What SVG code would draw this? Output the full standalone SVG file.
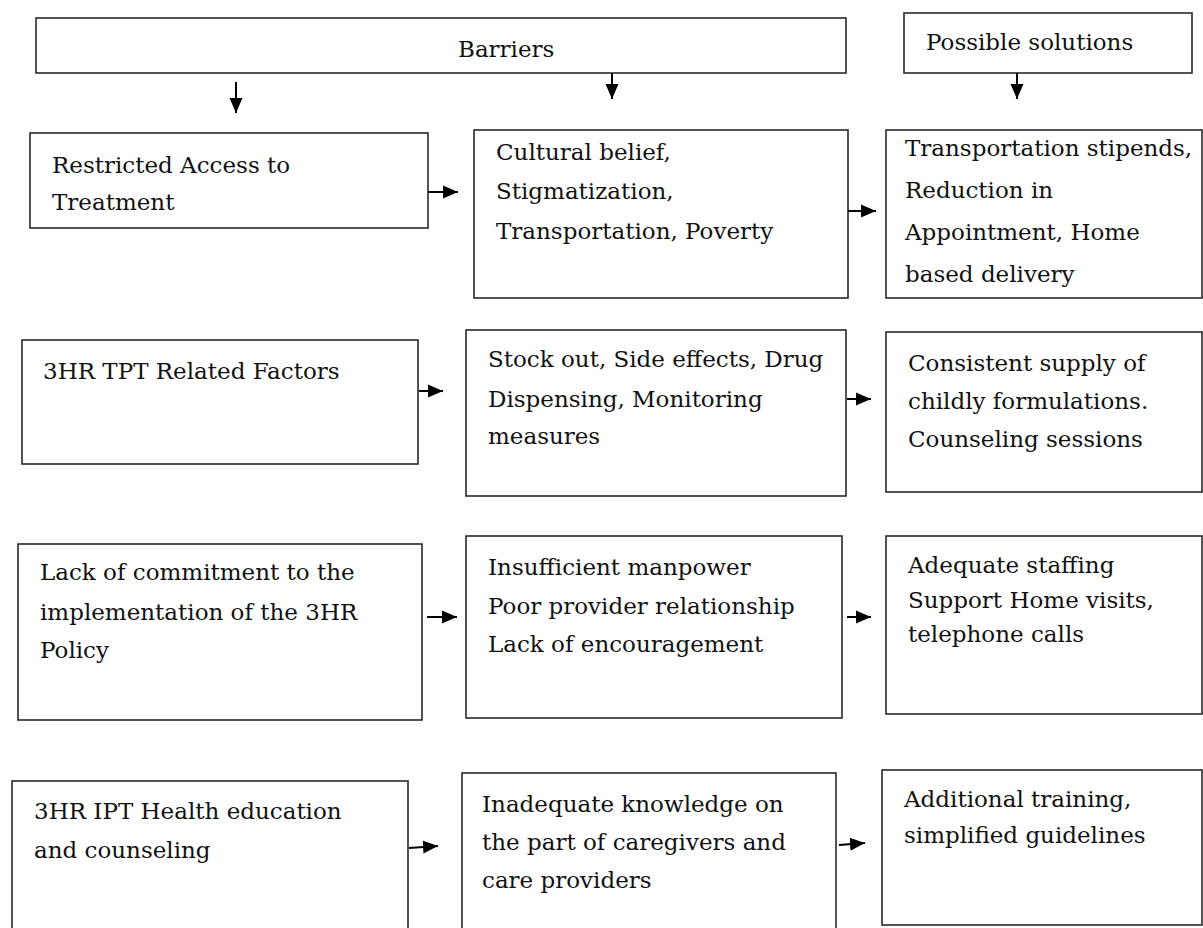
<svg xmlns="http://www.w3.org/2000/svg" width="1203" height="928" viewBox="0 0 1203 928">
<style>
.box{fill:#fff;stroke:#2a2a2a;stroke-width:1.6}
.t{font-family:"DejaVu Serif","Liberation Serif",serif;font-size:23px;fill:#111}
.c{stroke:#000;stroke-width:2;fill:none;marker-end:url(#ah)}
</style>
<defs>
<marker id="ah" markerUnits="userSpaceOnUse" markerWidth="16" markerHeight="16" viewBox="0 0 16 16" refX="15" refY="8" orient="auto">
<path d="M0,1.5 L15,8 L0,14.5 z" fill="#000"/>
</marker>
</defs>
<rect width="1203" height="928" fill="#fff"/>
<g id="n-barriers"><rect class="box" x="36" y="18" width="810" height="55"/><text class="t" x="458" y="57">Barriers</text></g>
<g id="n-solutions"><rect class="box" x="904" y="13" width="288" height="60"/><text class="t" x="926" y="50">Possible solutions</text></g>
<g id="n-restricted"><rect class="box" x="30" y="133" width="398" height="95"/><text class="t" x="52" y="173">Restricted Access to</text><text class="t" x="52" y="210">Treatment</text></g>
<g id="n-cultural"><rect class="box" x="474" y="130" width="374" height="168"/><text class="t" x="496" y="160">Cultural belief,</text><text class="t" x="496" y="199">Stigmatization,</text><text class="t" x="496" y="239">Transportation, Poverty</text></g>
<g id="n-transport"><rect class="box" x="886" y="130" width="316" height="168"/><text class="t" x="905" y="156">Transportation stipends,</text><text class="t" x="905" y="198">Reduction in</text><text class="t" x="905" y="240">Appointment, Home</text><text class="t" x="905" y="282">based delivery</text></g>
<g id="n-tpt"><rect class="box" x="22" y="340" width="396" height="124"/><text class="t" x="43" y="379">3HR TPT Related Factors</text></g>
<g id="n-stock"><rect class="box" x="466" y="330" width="380" height="166"/><text class="t" x="488" y="367">Stock out, Side effects, Drug</text><text class="t" x="488" y="407">Dispensing, Monitoring</text><text class="t" x="488" y="444">measures</text></g>
<g id="n-consistent"><rect class="box" x="886" y="332" width="316" height="160"/><text class="t" x="908" y="371">Consistent supply of</text><text class="t" x="908" y="409">childly formulations.</text><text class="t" x="908" y="447">Counseling sessions</text></g>
<g id="n-lack"><rect class="box" x="18" y="544" width="404" height="176"/><text class="t" x="40" y="580">Lack of commitment to the</text><text class="t" x="40" y="620">implementation of the 3HR</text><text class="t" x="40" y="658">Policy</text></g>
<g id="n-insufficient"><rect class="box" x="466" y="536" width="376" height="182"/><text class="t" x="488" y="575">Insufficient manpower</text><text class="t" x="488" y="614">Poor provider relationship</text><text class="t" x="488" y="652">Lack of encouragement</text></g>
<g id="n-adequate"><rect class="box" x="886" y="536" width="316" height="178"/><text class="t" x="908" y="573">Adequate staffing</text><text class="t" x="908" y="608">Support Home visits,</text><text class="t" x="908" y="642">telephone calls</text></g>
<g id="n-ipt"><rect class="box" x="12" y="781" width="396" height="170"/><text class="t" x="34" y="819">3HR IPT Health education</text><text class="t" x="34" y="858">and counseling</text></g>
<g id="n-inadequate"><rect class="box" x="462" y="773" width="374" height="180"/><text class="t" x="482" y="812">Inadequate knowledge on</text><text class="t" x="482" y="850">the part of caregivers and</text><text class="t" x="482" y="888">care providers</text></g>
<g id="n-additional"><rect class="box" x="882" y="770" width="320" height="155"/><text class="t" x="904" y="807">Additional training,</text><text class="t" x="904" y="843">simplified guidelines</text></g>
<g id="connectors">
<line class="c" x1="236" y1="82" x2="236" y2="113"/>
<line class="c" x1="612" y1="73" x2="612" y2="99"/>
<line class="c" x1="1017" y1="73" x2="1017" y2="99"/>
<line class="c" x1="428" y1="192" x2="458" y2="192"/>
<line class="c" x1="848" y1="211" x2="876" y2="211"/>
<line class="c" x1="419" y1="391" x2="443" y2="391"/>
<line class="c" x1="847" y1="399" x2="871" y2="399"/>
<line class="c" x1="427" y1="617" x2="457" y2="617"/>
<line class="c" x1="847" y1="617" x2="871" y2="617"/>
<line class="c" x1="409" y1="848" x2="438" y2="846"/>
<line class="c" x1="839" y1="845" x2="865" y2="843"/>
</g>
</svg>
